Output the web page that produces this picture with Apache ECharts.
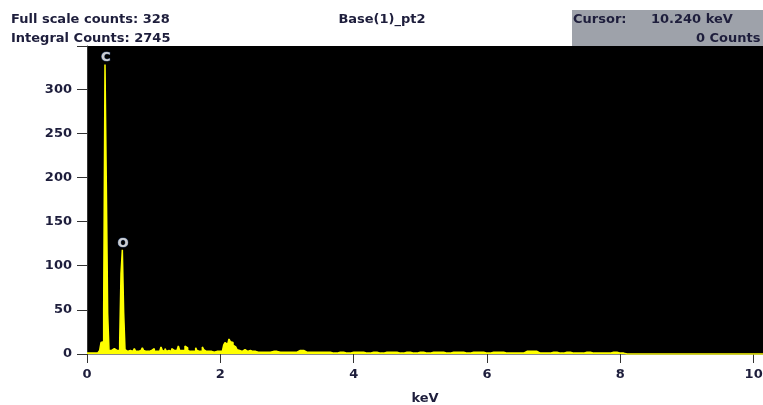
<!DOCTYPE html>
<html>
<head>
<meta charset="utf-8">
<script src="https://cdn.jsdelivr.net/npm/echarts@6/dist/echarts.min.js"></script>
<style>
  html, body { margin: 0; padding: 0; background: #fff; }
  #chart { width: 763px; height: 405px; }
</style>
</head>
<body>
<div id="chart"></div>
<script>
// ---- spectrum data ----
// low range: 0.00 - 2.60 keV, 0.02 keV channels
var lowStart = 0.0, lowStep = 0.02;
var lowCounts = [
  1, 1, 1, 1, 1, 1, 1, 1, 1, 1,          // 0.00 - 0.18
  4, 13, 14, 48, 328, 191, 46, 4, 4, 4,  // 0.20 - 0.38
  6, 6, 4, 4, 4, 12, 91, 118, 47, 5,     // 0.40 - 0.58
  3, 3, 4, 3, 3, 4, 6, 3, 3, 3,          // 0.60 - 0.78
  4, 3, 7, 4, 3, 4, 3, 3, 4, 5,          // 0.80 - 0.98
  6, 3, 3, 4, 3, 3, 8, 4, 3, 6,          // 1.00 - 1.18
  3, 4, 3, 3, 6, 4, 3, 4, 3, 9,          // 1.20 - 1.38
  4, 4, 3, 4, 9, 7, 4, 3, 4, 3,          // 1.40 - 1.58
  4, 3, 7, 4, 3, 4, 3, 8, 5, 3,          // 1.60 - 1.78
  3, 3, 2, 3, 3, 2, 3, 3, 2, 3,          // 1.80 - 1.98
  3, 3, 5, 10, 13, 11, 13, 17, 14, 13,   // 2.00 - 2.18
  10, 8, 6, 5, 4, 4, 3, 3, 5, 3,         // 2.20 - 2.38
  3, 3, 4, 3, 3, 2, 3, 2, 2, 3,          // 2.40 - 2.58
  2                                      // 2.60
];
// high range: 2.7 - 10.2 keV, 0.1 keV bins
var highStart = 2.7, highStep = 0.1;
var highCounts = [
  2, 3, 2, 2, 2, 4, 2, 2, 2, 2,          // 2.7 - 3.6
  1, 2, 1, 2, 2, 1, 2, 1, 2, 2,          // 3.7 - 4.6
  1, 2, 1, 2, 1, 2, 2, 1, 2, 2,          // 4.7 - 5.6
  1, 2, 2, 1, 2, 2, 1, 1, 1, 3,          // 5.7 - 6.6
  3, 1, 1, 2, 1, 2, 1, 1, 2, 1,          // 6.7 - 7.6
  1, 1, 2, 1, 0, 0, 0, 0, 0, 0,          // 7.7 - 8.6
  0, 0, 0, 0, 0, 0, 0, 0, 0, 0,          // 8.7 - 9.6
  0, 0, 0, 0, 0, 0                       // 9.7 - 10.2
];

var peakNames    = ["C", "O"];
var peakEnergies = [0.28, 0.54];
var peakCounts   = [328, 118];

var xTicks = [0, 2, 4, 6, 8, 10];
var yTicks = [0, 50, 100, 150, 200, 250, 300];

var headerLeft  = ["Full scale counts: 328", "Integral Counts: 2745"];
var headerTitle = "Base(1)_pt2";
var cursorText  = ["Cursor:", "10.240 keV", "0 Counts"];

// ---- build series points ----
var spectrum = [];
lowCounts.forEach(function(c, i) {
  spectrum.push([+(lowStart + i * lowStep).toFixed(2), c]);
});
highCounts.forEach(function(c, i) {
  spectrum.push([+(highStart + i * highStep).toFixed(2), c]);
});
var peaks = peakNames.map(function(n, i) {
  return { name: n, value: [peakEnergies[i], peakCounts[i]] };
});

var INK  = "#1e1e3c";
var FONT = "bold 13px 'DejaVu Sans'";

var chart = echarts.init(document.getElementById("chart"), null, { renderer: "canvas" });

chart.setOption({
  animation: false,
  backgroundColor: "#ffffff",
  grid: {
    left: 87, right: 0, top: 46, bottom: 51,
    outerBoundsMode: "none",
    containLabel: false,
    show: true,
    backgroundColor: "#000000",
    borderWidth: 0
  },
  xAxis: {
    type: "value",
    min: 0,
    max: 10.14,
    interval: 2,
    name: "keV",
    nameLocation: "middle",
    nameGap: 38,
    nameTextStyle: { color: INK, fontFamily: "DejaVu Sans", fontWeight: "bold", fontSize: 13 },
    axisLine: { show: true, onZero: false, lineStyle: { color: "#8a8a8a", width: 1 } },
    axisTick: { show: true, length: 9, lineStyle: { color: "#333" } },
    axisLabel: {
      color: INK, fontFamily: "DejaVu Sans", fontWeight: "bold", fontSize: 13, margin: 14,
      formatter: function(v) { return xTicks.indexOf(v) >= 0 ? String(v) : ""; }
    },
    splitLine: { show: false }
  },
  yAxis: {
    type: "value",
    min: 0,
    max: 349,
    interval: 50,
    axisLine: { show: true, lineStyle: { color: "#333", width: 1 } },
    axisTick: { show: true, length: 10, lineStyle: { color: "#333" } },
    axisLabel: {
      color: INK, fontFamily: "DejaVu Sans", fontWeight: "bold", fontSize: 13, margin: 15,
      formatter: function(v) { return yTicks.indexOf(v) >= 0 ? String(v) : ""; }
    },
    splitLine: { show: false }
  },
  series: [
    {
      name: "spectrum",
      type: "line",
      data: spectrum,
      step: "middle",
      symbol: "none",
      lineStyle: { color: "#ffff00", width: 1.5 },
      areaStyle: { color: "#ffff00", opacity: 1 },
      z: 3
    },
    {
      name: "peaks",
      type: "scatter",
      data: peaks,
      symbolSize: 0,
      silent: true,
      label: {
        show: true,
        position: "top",
        distance: 0,
        formatter: "{b}",
        color: "#ffffff",
        fontFamily: "DejaVu Sans",
        fontWeight: "bold",
        fontSize: 13,
        textBorderColor: "#3c5a8c",
        textBorderWidth: 1
      },
      z: 4
    }
  ],
  graphic: [
    { type: "text", x: 11, y: 20,
      style: { text: headerLeft[0], fill: INK, font: FONT, verticalAlign: "middle" } },
    { type: "text", x: 11, y: 39,
      style: { text: headerLeft[1], fill: INK, font: FONT, verticalAlign: "middle" } },
    { type: "text", x: 382, y: 20,
      style: { text: headerTitle, fill: INK, font: FONT, align: "center", verticalAlign: "middle" } },
    { type: "rect", shape: { x: 572, y: 10, width: 191, height: 36 },
      style: { fill: "#9ea2aa" }, z: 1 },
    { type: "text", x: 573, y: 20, z: 2,
      style: { text: cursorText[0], fill: INK, font: FONT, verticalAlign: "middle" } },
    { type: "text", x: 651, y: 20, z: 2,
      style: { text: cursorText[1], fill: INK, font: FONT, verticalAlign: "middle" } },
    { type: "text", x: 696, y: 39, z: 2,
      style: { text: cursorText[2], fill: INK, font: FONT, verticalAlign: "middle" } }
  ]
});
</script>
</body>
</html>
